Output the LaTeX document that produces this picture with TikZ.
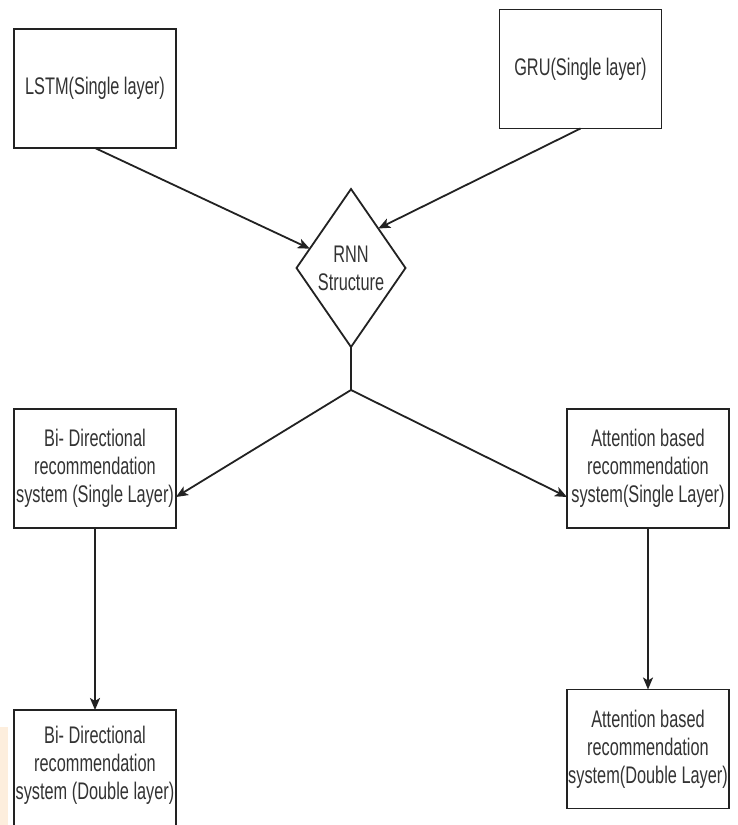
\documentclass[tikz,border=0pt]{standalone}
\usepackage{fontspec}
\newfontfamily\boxfont{Liberation Sans}[FakeStretch=0.68]
\usetikzlibrary{shapes.geometric,arrows.meta,calc}
\definecolor{inkline}{HTML}{222222}
\definecolor{inktext}{HTML}{333333}
\definecolor{peach}{HTML}{FDEEDD}
\begin{document}
\begin{tikzpicture}[x=1bp,y=-1bp,
  every node/.style={inner sep=0pt, outer sep=0pt},
  card/.style={draw=inkline, line width=1.8bp, minimum width=162bp, minimum height=119bp,
    align=center, text=inktext, font=\boxfont\fontsize{24bp}{28bp}\selectfont},
  decision/.style={draw=inkline, line width=1.8bp, diamond, minimum width=109bp, minimum height=158bp},
  link/.style={draw=inkline, line width=1.8bp, -{Stealth[length=12bp,width=10bp,inset=3bp]}},
  plainlink/.style={draw=inkline, line width=1.8bp}
]
% canvas
\useasboundingbox (0,0) rectangle (738,825);
\fill[white] (0,0) rectangle (738,825);
\fill[peach] (0,727) rectangle (8,825);

% top row
\node[card] (lstm) at (95,88.5) {LSTM(Single layer)};
\node[card] (gru)  at (580.5,69) {GRU(Single layer)};

% decision node
\node[decision, label={[align=center, text=inktext, font=\boxfont\fontsize{24bp}{28bp}\selectfont]center:RNN\\Structure}] (rnn) at (351,268) {};

% middle row
\node[card] (bis) at (95,468.5) {Bi- Directional\\recommendation\\system (Single Layer)};
\node[card] (ats) at (648,468.5) {Attention based\\recommendation\\system(Single Layer)};

% bottom row (the left card runs past the lower edge)
\begin{scope}
\clip (0,0) rectangle (738,825);
\node[card] (bid) at (95,769.5) {};
\end{scope}
\node[align=center, text=inktext, font=\boxfont\fontsize{24bp}{28bp}\selectfont] (bidtext) at (95,765) {Bi- Directional\\recommendation\\system (Double layer)};
\node[card] (atd) at (648,749) {Attention based\\recommendation\\system(Double Layer)};

% connectors
\path[link] (lstm.south) -- (rnn);
\path[link] (gru.south) -- (rnn.north east);
\coordinate (split) at (351,390);
\path[plainlink] (rnn.south) -- (split);
\path[link] (split) -- ([yshift=-28.5bp]bis.east);
\path[link] (split) -- ([yshift=-28.5bp]ats.west);
\path[link] (bis.south) -- (bid.north);
\path[link] (ats.south) -- (atd.north);
\end{tikzpicture}
\end{document}
